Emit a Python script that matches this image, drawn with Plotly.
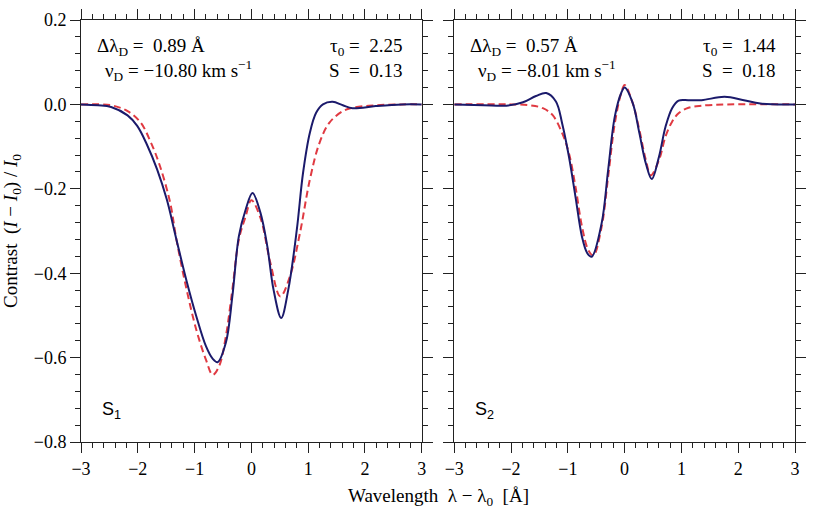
import plotly.graph_objects as go
from plotly.subplots import make_subplots

# panel S1
s1_x_obs = [-3.0, -2.7, -2.47, -2.18, -2.01, -1.84, -1.66, -1.49, -1.32, -1.14, -0.97, -0.80,
            -0.68, -0.595, -0.45, -0.335, -0.22, -0.10, 0.02, 0.16, 0.28, 0.39, 0.525, 0.65,
            0.80, 0.91, 1.03, 1.14, 1.26, 1.43, 1.61, 1.78, 2.19, 2.65, 3.0]
s1_y_obs = [0.0, -0.002, -0.006, -0.026, -0.051, -0.095, -0.154, -0.225, -0.32, -0.419, -0.502,
            -0.573, -0.603, -0.611, -0.565, -0.455, -0.312, -0.249, -0.21, -0.257, -0.336,
            -0.439, -0.506, -0.439, -0.297, -0.162, -0.067, -0.020, 0.0, 0.006, -0.002,
            -0.009, -0.004, 0.0, 0.0]
s1_x_fit = [-3.0, -2.47, -2.18, -1.95, -1.78, -1.61, -1.43, -1.32, -1.14, -0.97, -0.80, -0.68,
            -0.567, -0.45, -0.335, -0.22, -0.10, 0.0, 0.16, 0.335, 0.51, 0.68, 0.855, 1.03,
            1.20, 1.375, 1.61, 1.78, 2.19, 2.65, 3.0]
s1_y_fit = [0.0, -0.002, -0.016, -0.043, -0.087, -0.146, -0.233, -0.32, -0.439, -0.534, -0.605,
            -0.641, -0.62, -0.55, -0.439, -0.32, -0.265, -0.227, -0.269, -0.376, -0.455,
            -0.407, -0.305, -0.178, -0.091, -0.043, -0.016, -0.008, -0.002, 0.0, 0.0]

# panel S2
s2_x_obs = [-3.0, -2.48, -2.08, -1.79, -1.56, -1.38, -1.21, -1.10, -0.98, -0.865, -0.75, -0.66,
            -0.58, -0.405, -0.29, -0.173, -0.06, 0.0, 0.143, 0.26, 0.374, 0.478, 0.605, 0.72,
            0.836, 0.95, 1.125, 1.355, 1.76, 2.10, 2.39, 3.0]
s2_y_obs = [0.0, -0.002, -0.003, 0.005, 0.020, 0.027, 0.007, -0.045, -0.124, -0.219, -0.314,
            -0.352, -0.361, -0.282, -0.155, -0.029, 0.027, 0.040, 0.003, -0.068, -0.14,
            -0.177, -0.124, -0.053, -0.009, 0.009, 0.010, 0.010, 0.018, 0.010, 0.002, 0.0]
s2_x_fit = [-3.0, -2.0, -1.67, -1.44, -1.27, -1.10, -0.98, -0.865, -0.75, -0.64, -0.55, -0.405,
            -0.29, -0.173, -0.06, 0.0, 0.143, 0.26, 0.374, 0.46, 0.605, 0.72, 0.836, 0.95,
            1.125, 1.355, 1.8, 3.0]
s2_y_fit = [0.0, 0.0, -0.002, -0.009, -0.025, -0.068, -0.116, -0.195, -0.29, -0.345, -0.358,
            -0.29, -0.171, -0.045, 0.027, 0.046, 0.003, -0.061, -0.132, -0.168, -0.132,
            -0.076, -0.041, -0.021, -0.008, -0.003, 0.0, 0.0]

params_left = ["Δλ<sub>D</sub> =  0.89 Å", "ν<sub>D</sub> = −10.80 km s<sup>−1</sup>",
               "τ<sub>0</sub> =  2.25", "S  =  0.13"]
params_right = ["Δλ<sub>D</sub> =  0.57 Å", "ν<sub>D</sub> = −8.01 km s<sup>−1</sup>",
                "τ<sub>0</sub> =  1.44", "S  =  0.18"]
panel_names = ["S<sub>1</sub>", "S<sub>2</sub>"]

NAVY = "#1b1a6b"
RED = "#e03a42"
SERIF = "Liberation Serif, Times New Roman, serif"

fig = make_subplots(rows=1, cols=2, horizontal_spacing=0.0455)

for col, (xo, yo, xf, yf) in enumerate(
    [(s1_x_obs, s1_y_obs, s1_x_fit, s1_y_fit), (s2_x_obs, s2_y_obs, s2_x_fit, s2_y_fit)], start=1
):
    fig.add_trace(go.Scatter(x=xf, y=yf, mode="lines", line_shape="spline",
                             line=dict(color=RED, width=2, dash="7px,4px"), showlegend=False),
                  row=1, col=col)
    fig.add_trace(go.Scatter(x=xo, y=yo, mode="lines", line_shape="spline",
                             line=dict(color=NAVY, width=2), showlegend=False),
                  row=1, col=col)

axis_common = dict(showline=True, linecolor="#222", linewidth=1, mirror="allticks",
                   ticks="outside", tickcolor="#222", ticklen=10, tickwidth=1,
                   showgrid=False, zeroline=False, tickfont=dict(family=SERIF, size=18, color="black"))

for col in (1, 2):
    fig.update_xaxes(range=[-3, 3], dtick=1, tick0=0,
                     minor=dict(dtick=0.2, ticklen=5, ticks="outside", tickcolor="#222", showgrid=False),
                     row=1, col=col, **axis_common)
    fig.update_yaxes(range=[-0.8, 0.2], dtick=0.2, tick0=0, tickformat=".1f",
                     showticklabels=(col == 1),
                     minor=dict(dtick=0.04, ticklen=5, ticks="outside", tickcolor="#222", showgrid=False),
                     row=1, col=col, **axis_common)

fig.update_yaxes(title=dict(text="Contrast  (<i>I</i> − <i>I</i><sub>0</sub>) / <i>I</i><sub>0</sub>",
                            font=dict(family=SERIF, size=19, color="black"), standoff=12),
                 row=1, col=1)

annotations = []
for xref, params, name in [("x domain", params_left, panel_names[0]),
                           ("x2 domain", params_right, panel_names[1])]:
    yref = "y domain" if xref == "x domain" else "y2 domain"
    annotations += [
        dict(text=params[0], x=0.04, y=0.935, xanchor="left", yanchor="middle"),
        dict(text=params[1], x=0.065, y=0.88, xanchor="left", yanchor="middle"),
        dict(text=params[2], x=0.95, y=0.935, xanchor="right", yanchor="middle"),
        dict(text=params[3], x=0.95, y=0.88, xanchor="right", yanchor="middle"),
    ]
    for a in annotations[-4:]:
        a.update(xref=xref, yref=yref, showarrow=False,
                 font=dict(family=SERIF, size=19, color="black"))
    annotations.append(dict(text=name, x=0.055, y=0.075, xref=xref, yref=yref,
                            xanchor="left", yanchor="middle", showarrow=False,
                            font=dict(family="Liberation Sans, Arial, sans-serif", size=18,
                                      color="black")))

annotations.append(dict(text="Wavelength  λ − λ<sub>0</sub>  [Å]", x=0.5, y=-0.097,
                        xref="paper", yref="paper", xanchor="center", yanchor="top",
                        showarrow=False, font=dict(family=SERIF, size=19, color="black")))

fig.update_layout(
    width=814, height=509,
    margin=dict(l=81, r=8, t=20, b=67),
    plot_bgcolor="white", paper_bgcolor="white",
    annotations=annotations,
)

fig.write_html("out.html", config={"displayModeBar": False},
               post_script="document.body.style.margin='0';")
